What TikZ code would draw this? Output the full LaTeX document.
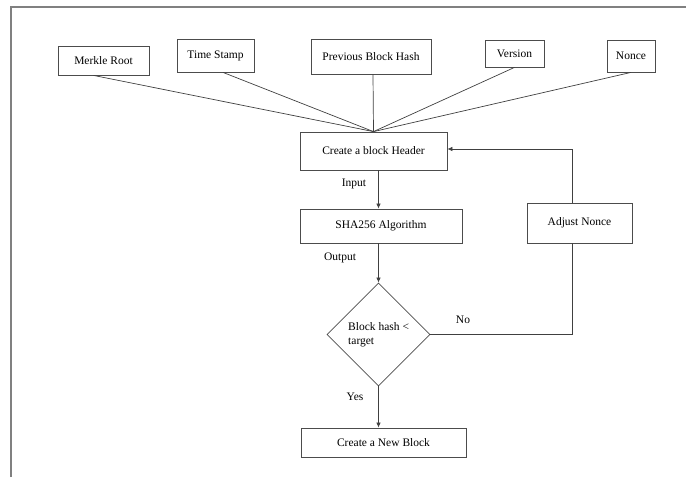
\documentclass[tikz,border=0pt]{standalone}
\usepackage{fontspec}
\setmainfont{Liberation Serif}
\usetikzlibrary{arrows.meta,shapes.geometric}

\begin{document}
\begin{tikzpicture}[
    x=1pt, y=-1pt,
    font=\fontsize{11.5}{14}\selectfont,
    box/.style={draw=black!70, line width=0.8pt, inner sep=0pt, rectangle},
    conn/.style={draw=black!75, line width=0.7pt},
    arr/.style={conn, -{Latex[length=5pt,width=4.5pt]}},
    lbl/.style={inner sep=0pt}
  ]
  \useasboundingbox (0,0) rectangle (686,477);

  % outer frame (top and left edges only)
  \draw[black!50, line width=1.6pt] (11,477) -- (11,7) -- (686,7);

  % header fields
  \node[box, minimum width=91,  minimum height=29] (merkle)  at (103.5,60.5) {Merkle Root};
  \node[box, minimum width=77,  minimum height=33] (time)    at (215.5,55.5) {Time Stamp};
  \node[box, minimum width=120, minimum height=35] (prev)    at (371,56.5)   {Previous Block Hash};
  \node[box, minimum width=59,  minimum height=27] (version) at (514.5,53.5) {Version};
  \node[box, minimum width=48,  minimum height=32] (nonce)   at (631,56)     {Nonce};

  % main flow
  \node[box, minimum width=147, minimum height=38] (header) at (373.5,151)  {Create a block Header};
  \node[box, minimum width=162, minimum height=34] (sha)    at (381,226)    {SHA256 Algorithm};
  \node[box, minimum width=105, minimum height=40] (adjust) at (579.5,223)  {Adjust Nonce};
  \node[diamond, draw=black!70, line width=0.8pt, minimum width=103, minimum height=103,
        inner sep=0pt] (dec) at (378.5,334.5) {};
  \node[lbl, align=left, anchor=west] (dectext) at (348,335) {Block hash <\\target};
  \node[box, minimum width=165, minimum height=29] (newblock) at (383.5,442.5) {Create a New Block};

  % fields feeding the header
  \draw[conn] ([xshift=-10pt]merkle.south) -- (header.north);
  \draw[conn] ([xshift=7.5pt]time.south)   -- (header.north);
  \draw[conn] ([xshift=2pt]prev.south)     -- (header.north);
  \draw[conn] (version.south)              -- (header.north);
  \draw[conn] (nonce.south)                -- (header.north);

  % vertical flow arrows
  \draw[arr] (dec.north |- header.south) -- (dec.north |- sha.north);
  \draw[arr] (dec.north |- sha.south)    -- (dec.north);
  \draw[arr] (dec.south) -- (dec.south |- newblock.north);

  % retry loop
  \draw[conn] (dec.east) -| ([xshift=-7.5pt]adjust.south);
  \draw[arr] ([xshift=-7.5pt]adjust.north) |- ([yshift=2pt]header.east);

  % edge labels
  \node[lbl] (lin)  at (354,184) {Input};
  \node[lbl] (lout) at (340,258) {Output};
  \node[lbl] (lno)  at (463,320) {No};
  \node[lbl] (lyes) at (355,397) {Yes};
\end{tikzpicture}
\end{document}
